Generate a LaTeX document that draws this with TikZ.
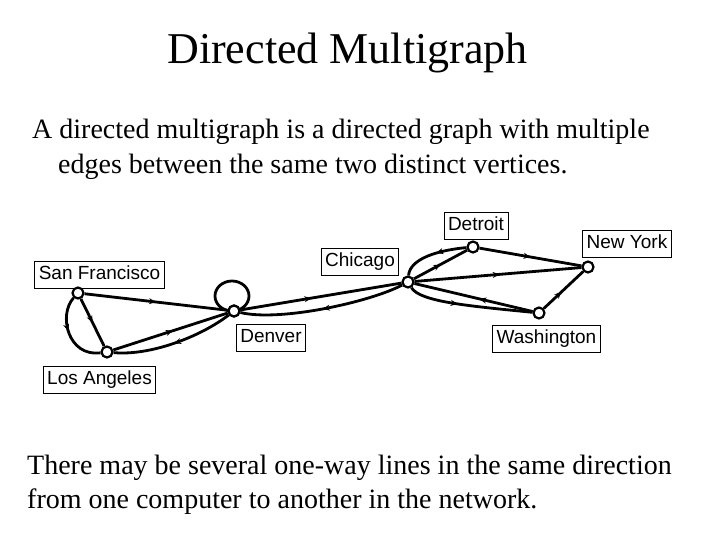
\documentclass[tikz,border=0pt]{standalone}
\usepackage{fontspec}
\setmainfont{Liberation Serif}
\newfontfamily\labelfont{Liberation Sans}
\usetikzlibrary{decorations.markings,arrows.meta}
\tikzset{
  vert/.style={circle,draw,fill=white,line width=2.2pt,minimum size=11pt,inner sep=0pt},
  lab/.style={draw,line width=0.8pt,font=\labelfont\fontsize{19}{21}\selectfont,text height=14pt,text depth=4.5pt,inner xsep=4pt,inner ysep=4.5pt},
  conn/.style={line width=2.8pt},
  midarrow/.style={postaction={decorate},decoration={markings,mark=at position #1 with {\arrow{Stealth[length=7pt,width=6pt]}}}},
  midarrow/.default=0.5,
  revarrow/.style={postaction={decorate},decoration={markings,mark=at position #1 with {\arrowreversed{Stealth[length=7pt,width=6pt]}}}},
}
\begin{document}
\begin{tikzpicture}[x=1pt,y=-1pt]
\useasboundingbox (0,0) rectangle (720,540);
\fill[white] (0,0) rectangle (720,540);
% texts
\node[anchor=base,font=\fontsize{44}{48}\selectfont,inner sep=0pt] (title) at (347.5,64) {Directed Multigraph};
\node[anchor=base west,font=\fontsize{28}{32}\selectfont,inner sep=0pt] (b1) at (32,139) {A directed multigraph is a directed graph with multiple};
\node[anchor=base west,font=\fontsize{28}{32}\selectfont,inner sep=0pt] (b2) at (58,174) {edges between the same two distinct vertices.};
\node[anchor=base west,font=\fontsize{28}{32}\selectfont,inner sep=0pt] (c1) at (27,474) {There may be several one-way lines in the same direction};
\node[anchor=base west,font=\fontsize{28}{32}\selectfont,inner sep=0pt] (c2) at (27,508) {from one computer to another in the network.};
% labels
\node[lab] (lsf) at (99.5,275) {San Francisco};
\node[lab] (lla) at (99.5,380) {Los Angeles};
\node[lab] (lden) at (271,338) {Denver};
\node[lab] (lchi) at (360,262) {Chicago};
\node[lab] (ldet) at (476,226) {Detroit};
\node[lab] (lny) at (627,244) {New York};
\node[lab] (lwa) at (546.5,339) {Washington};
% vertices
\node[vert] (sf) at (78,293) {};
\node[vert] (la) at (107,352) {};
\node[vert] (den) at (234,311) {};
\node[vert] (chi) at (408,282) {};
\node[vert] (det) at (473,247) {};
\node[vert] (ny) at (588,267) {};
\node[vert] (wa) at (539,313) {};
% edges
\begin{scope}[conn]
\draw[midarrow] (sf) -- (den);
\draw[midarrow] (sf) -- (la);
\draw[midarrow=0.45] (sf) .. controls (58,315) and (68,357) .. (la);
\draw[midarrow=0.52] (la) -- (den);
\draw[midarrow=0.5] (den) .. controls (200,337) and (150,356) .. (la);
\draw[midarrow=0.44] (den) -- (chi);
\draw[midarrow=0.5] (chi) .. controls (370,302) and (280,322) .. (den);
\draw[midarrow=0.5] (chi) -- (det);
\draw[midarrow=0.45] (det) .. controls (440,250) and (410,258) .. (chi);
\draw[midarrow=0.5] (det) -- (ny);
\draw[midarrow=0.51] (chi) -- (ny);
\draw[midarrow=0.45] (wa) -- (chi);
\draw[midarrow=0.4] (chi) .. controls (420,302) and (470,306) .. (wa);
\draw[midarrow=0.45] (wa) -- (ny);
\draw[revarrow=0.2] (den.center) ++(-2,-15) ellipse[x radius=17,y radius=15];
\end{scope}
\node[vert] at (den) {};
\end{tikzpicture}
\end{document}
